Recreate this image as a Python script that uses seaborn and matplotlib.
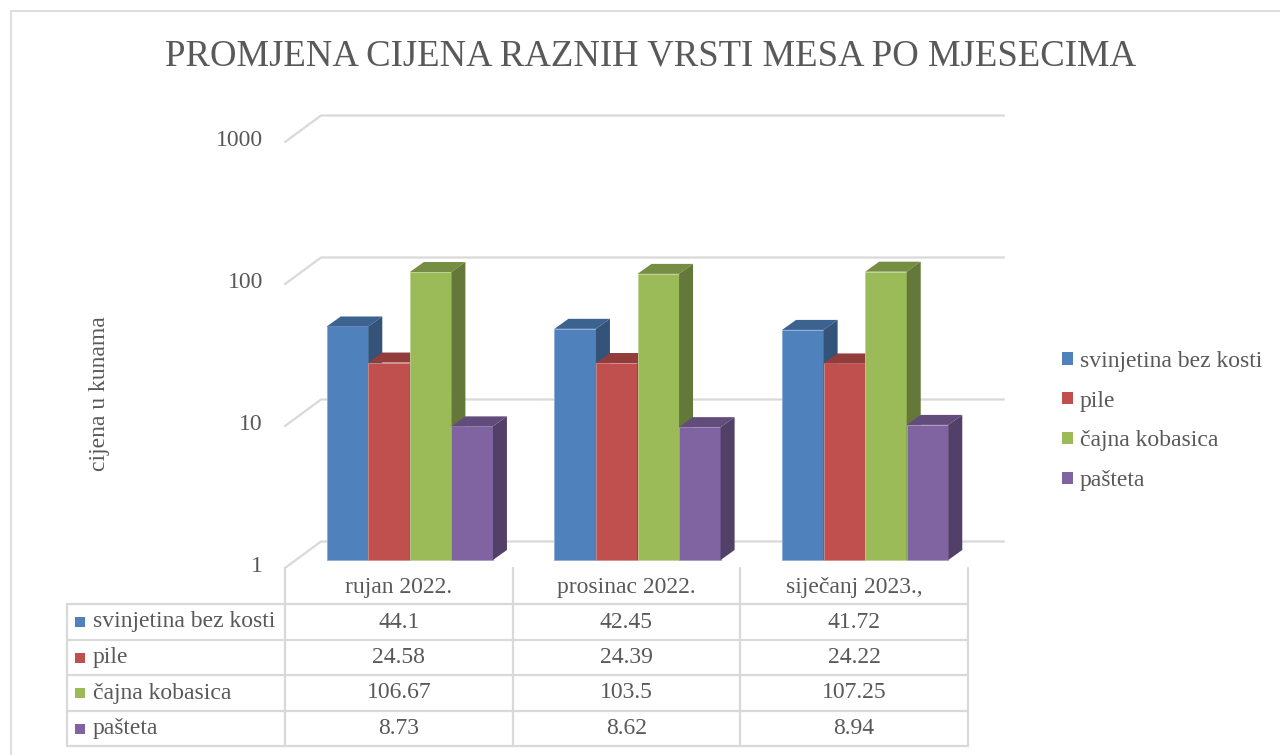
import numpy as np
import pandas as pd
import matplotlib
matplotlib.use("Agg")
import matplotlib.pyplot as plt
import matplotlib.colors as mcolors
import seaborn as sns
from matplotlib.patches import Polygon, Rectangle, Patch
from matplotlib.lines import Line2D
from matplotlib.transforms import IdentityTransform, ScaledTranslation

# ---------------- data ----------------
months = ["rujan 2022.", "prosinac 2022.", "siječanj 2023.,"]
series_names = ["svinjetina bez kosti", "pile", "čajna kobasica", "pašteta"]
svinjetina = [44.1, 42.45, 41.72]
pile = [24.58, 24.39, 24.22]
cajna_kobasica = [106.67, 103.5, 107.25]
pasteta = [8.73, 8.62, 8.94]
y_ticks = [1, 10, 100, 1000]
y_tick_labels = ["1", "10", "100", "1000"]
title = "PROMJENA CIJENA RAZNIH VRSTI MESA PO MJESECIMA"
y_label = "cijena u kunama"

colors = ["#4F81BD", "#C0504D", "#9BBB59", "#8064A2"]
TEXT = "#595959"
GRID = "#D9D9D9"
FS = 17

sns.set_theme(style="white")
plt.rcParams["font.family"] = "serif"
plt.rcParams["font.serif"] = ["Liberation Serif", "Times New Roman", "DejaVu Serif"]

W, H = 1280, 755
fig = plt.figure(figsize=(W / 100, H / 100), dpi=100)
fig.patch.set_facecolor("white")
ID = IdentityTransform()


def P(x, y):
    """image pixel (origin top-left) -> display coords"""
    return (x, H - y)


ax = fig.add_axes([285 / W, (H - 568) / H, 683 / W, 426 / H])

values = [svinjetina, pile, cajna_kobasica, pasteta]
df = pd.DataFrame({
    "mjesec": np.tile(months, len(series_names)),
    "vrsta": np.repeat(series_names, len(months)),
    "cijena": np.concatenate(values),
})
sns.barplot(data=df, x="mjesec", y="cijena", hue="vrsta", order=months,
            hue_order=series_names, palette=colors, width=0.73, errorbar=None,
            legend=False, ax=ax, linewidth=0, saturation=1)

ax.set_yscale("log")
ax.set_xlim(-0.5, 2.5)
ax.set_ylim(1, 1000)
ax.set_autoscale_on(False)
ax.axis("off")
ax.patch.set_alpha(0)

# 3D look parameters (pixels)
FRONT_DX, FRONT_DY = 11, 8
DEPTH_DX, DEPTH_DY = 14, 10
WALL_DX, WALL_DY = 36, 26.5

# ---------- back wall gridlines + tick labels ----------
for v, lab in zip(y_ticks, y_tick_labels):
    F = ax.transData.transform((-0.5, v))
    E = ax.transData.transform((2.5, v))
    B = (F[0] + WALL_DX, F[1] + WALL_DY)
    E2 = (E[0] + WALL_DX, E[1] + WALL_DY)
    ln = Line2D([F[0], B[0], E2[0]], [F[1], B[1], E2[1]], color=GRID, lw=1.6,
                transform=ID, zorder=1, clip_on=False)
    ax.add_artist(ln)
    fig.text(F[0] - 22, F[1] + 2, lab, transform=ID, ha="right", va="center",
             fontsize=FS, color=TEXT)


def shade(c, f):
    r, g, b = mcolors.to_rgb(c)
    return (r * f, g * f, b * f)


def tint(c, f):
    r, g, b = mcolors.to_rgb(c)
    return (r + (1 - r) * f, g + (1 - g) * f, b + (1 - b) * f)


# ---------- bars with 3D faces ----------
bars = sorted(ax.patches, key=lambda p: p.get_x())
off = ScaledTranslation(FRONT_DX / 100, FRONT_DY / 100, fig.dpi_scale_trans)
for i, p in enumerate(bars):
    x0 = p.get_x()
    x1 = x0 + p.get_width()
    top = p.get_y() + p.get_height()
    p.set_y(1)
    p.set_height(top - 1)
    p.set_transform(ax.transData + off)
    p.set_clip_on(False)
    z = 3 + i * 0.01
    p.set_zorder(z)
    fc = p.get_facecolor()
    p.set_edgecolor(tint(fc, 0.35))
    p.set_linewidth(0.6)
    X0, Y0 = ax.transData.transform((x0, 1))
    X1, Y1 = ax.transData.transform((x1, top))
    X0 += FRONT_DX; X1 += FRONT_DX; Y0 += FRONT_DY; Y1 += FRONT_DY
    top_face = Polygon([(X0, Y1), (X1, Y1), (X1 + DEPTH_DX, Y1 + DEPTH_DY),
                        (X0 + DEPTH_DX, Y1 + DEPTH_DY)], closed=True,
                       facecolor=shade(fc, 0.76), edgecolor="none",
                       transform=ID, clip_on=False, zorder=z + 0.001)
    side_face = Polygon([(X1, Y0), (X1, Y1), (X1 + DEPTH_DX, Y1 + DEPTH_DY),
                         (X1 + DEPTH_DX, Y0 + DEPTH_DY)], closed=True,
                        facecolor=shade(fc, 0.64), edgecolor="none",
                        transform=ID, clip_on=False, zorder=z + 0.002)
    ax.add_artist(top_face)
    ax.add_artist(side_face)

# ---------- title, y label ----------
fig.text(*P(651, 56), title, transform=ID, ha="center", va="center",
         fontsize=26.5, color=TEXT)
fig.text(*P(100, 394), y_label, transform=ID, ha="center", va="center",
         rotation=90, fontsize=FS, color=TEXT)

# ---------- data table ----------
col_edges = [ax.transData.transform((b, 1))[0] for b in (-0.5, 0.5, 1.5, 2.5)]
left_edge = 67
row_lines = [604, 640, 675, 711, 746]
header_y = 588
top_y = 568

for y in row_lines:
    fig.add_artist(Line2D([left_edge, col_edges[-1]], [H - y, H - y],
                          color=GRID, lw=1.6, transform=ID))
for x in col_edges:
    fig.add_artist(Line2D([x, x], [H - top_y, H - row_lines[-1]],
                          color=GRID, lw=1.6, transform=ID))
fig.add_artist(Line2D([left_edge, left_edge], [H - row_lines[0], H - row_lines[-1]],
                      color=GRID, lw=1.6, transform=ID))

for j, m in enumerate(months):
    cx = (col_edges[j] + col_edges[j + 1]) / 2
    fig.text(cx, H - header_y, m, transform=ID, ha="center", va="center",
             fontsize=FS, color=TEXT)

for r, (name, vals, c) in enumerate(zip(series_names, values, colors)):
    cy = (row_lines[r] + row_lines[r + 1]) / 2
    fig.add_artist(Rectangle((75, H - cy - 5), 10, 10, facecolor=c,
                             edgecolor="none", transform=ID))
    fig.text(93, H - cy, name, transform=ID, ha="left", va="center",
             fontsize=FS, color=TEXT)
    for j, v in enumerate(vals):
        cx = (col_edges[j] + col_edges[j + 1]) / 2
        fig.text(cx, H - cy, f"{v:g}", transform=ID, ha="center",
                 va="center", fontsize=FS, color=TEXT)

# ---------- legend ----------
handles = [Patch(facecolor=c, edgecolor="none", label=n)
           for c, n in zip(colors, series_names)]
leg = fig.legend(handles=handles, loc="center left",
                 bbox_to_anchor=(1062 / W, (H - 421) / H), frameon=False,
                 fontsize=FS, handlelength=0.45, handleheight=0.45,
                 handletextpad=0.3, labelspacing=0.8, borderpad=0,
                 borderaxespad=0)
for t in leg.get_texts():
    t.set_color(TEXT)

# ---------- chart border ----------
fig.add_artist(Rectangle((11, -20), 1300, (H - 11) + 20, facecolor="none",
                         edgecolor=GRID, lw=1.2, transform=ID))

fig.savefig("out.png", dpi=100)
